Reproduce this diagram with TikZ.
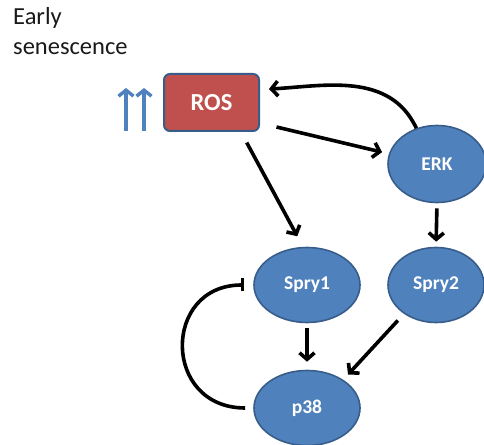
\documentclass[tikz,border=0pt]{standalone}
\usepackage{fontspec}
\setmainfont{Carlito}
\usetikzlibrary{arrows.meta,shapes.geometric}
\definecolor{nodeblue}{HTML}{4F81BD}
\definecolor{edgeblue}{HTML}{385D8A}
\definecolor{rosred}{HTML}{C0504D}
\tikzset{
  protein/.style={ellipse, draw=edgeblue, line width=1.6pt, fill=nodeblue, text=white, font=\bfseries\fontsize{19.5}{21}\selectfont, inner sep=0pt},
  rosbox/.style={rectangle, rounded corners=6pt, draw=edgeblue, line width=2pt, fill=rosred, text=white, font=\bfseries\fontsize{24.5}{26}\selectfont, minimum width=95pt, minimum height=57pt},
  arr/.style={line width=3.6pt, -{Straight Barb[length=6.5pt,width=15pt,line width=3.6pt]}},
  inh/.style={line width=3.6pt, -{Bar[width=13pt,line width=3.6pt]}},
  uparr/.style={draw=nodeblue, line width=3.6pt, -{Straight Barb[length=6pt,width=15pt,line width=3.4pt]}},
}
\begin{document}
\begin{tikzpicture}[x=1pt,y=1pt]
\useasboundingbox (0,0) rectangle (484,444);
\node[anchor=north west, align=left, font=\fontsize{24.5}{30}\selectfont, text=black!90, inner sep=0pt] (title) at (13,437) {Early\\senescence};
\node[rosbox] (ros) at (211.5,341.5) {ROS};
\node[protein, minimum width=98pt, minimum height=77pt] (erk) at (437,280) {ERK};
\node[protein, minimum width=106pt, minimum height=75pt] (spry1) at (307,159) {Spry1};
\node[protein, minimum width=96pt, minimum height=75pt] (spry2) at (436,159) {Spry2};
\node[protein, minimum width=106pt, minimum height=75pt] (p38) at (307,36) {p38};
% up arrows
\coordinate (u1a) at (126,313); \coordinate (u1b) at (126,356);
\coordinate (u2a) at (144,313); \coordinate (u2b) at (144,356);
\draw[uparr] (u1a) -- (u1b);
\draw[uparr] (u2a) -- (u2b);
% connectors
\draw[arr, shorten >=9pt] (erk.120) to[out=115,in=3] (ros.15);
\draw[arr, shorten <=17pt, shorten >=7pt] (ros.-23) -- (erk.168);
\draw[arr, shorten <=12pt, shorten >=12pt] (ros.-45) -- (spry1.96);
\draw[arr, shorten <=5pt, shorten >=5pt] (erk.south) -- (spry2.north);
\draw[arr, shorten <=5pt, shorten >=8pt] (spry1.south) -- (p38.north);
\draw[arr, shorten <=9pt, shorten >=7pt] (spry2.222) -- (p38.38);
\draw[inh, shorten <=8pt, shorten >=9pt] (p38.west) .. controls (162,36) and (162,159) .. (spry1.west);
\end{tikzpicture}
\end{document}
